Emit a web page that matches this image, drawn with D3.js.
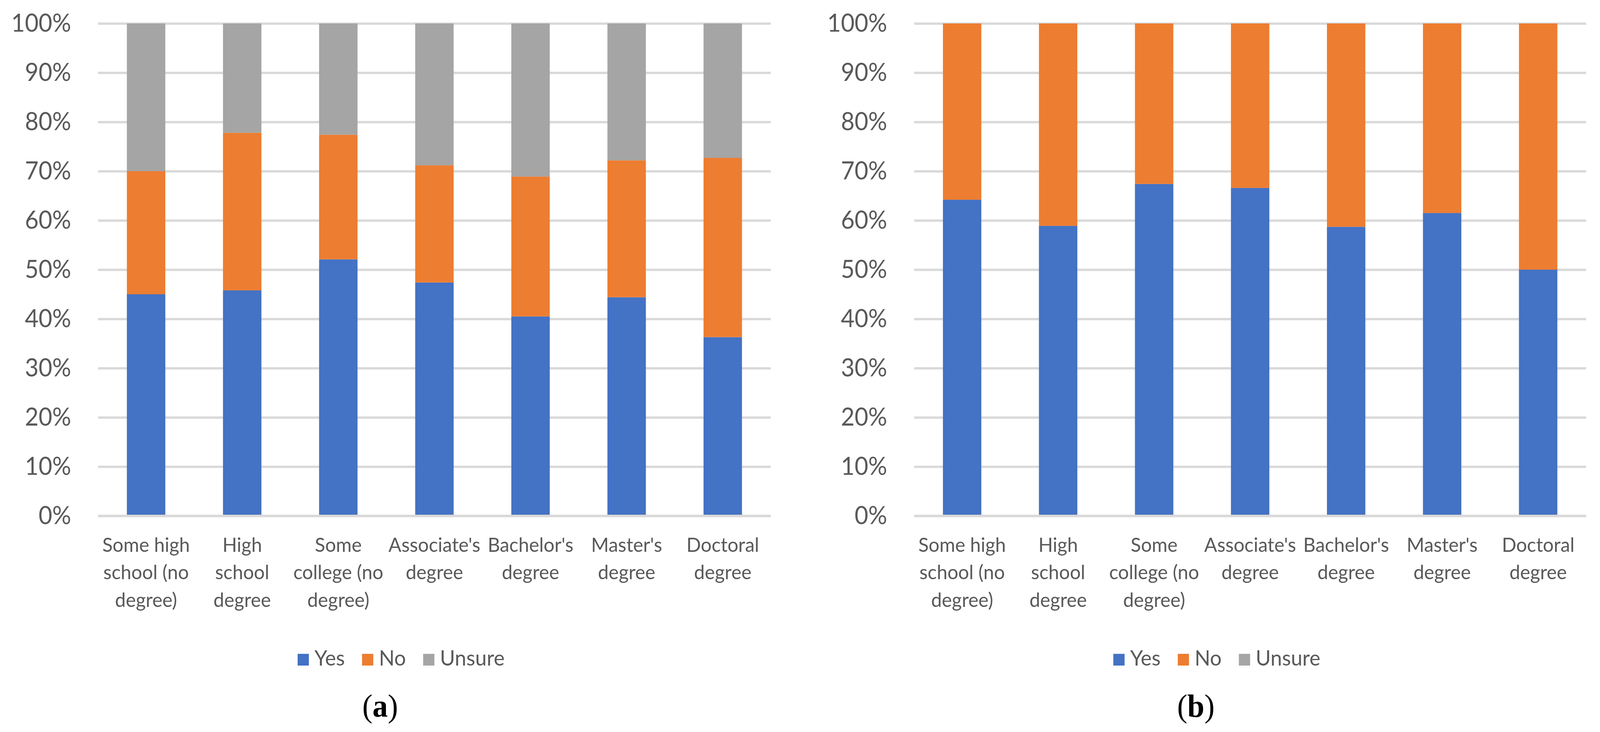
<!DOCTYPE html>
<html>
<head>
<meta charset="utf-8">
<script src="https://cdn.jsdelivr.net/npm/d3@7"></script>
<style>
  html, body { margin: 0; padding: 0; background: #fff; overflow: hidden; }
  svg { display: block; width: 100vw; height: 100vh; }
</style>
</head>
<body>
<svg id="chart"></svg>
<script>
const svgWidth = 4276,
    svgHeight = 1873;

// education levels, already split into the lines that Excel wraps them to
const categories = [
    ["Some high", "school (no", "degree)"],
    ["High", "school", "degree"],
    ["Some", "college (no", "degree)"],
    ["Associate's", "degree"],
    ["Bachelor's", "degree"],
    ["Master's", "degree"],
    ["Doctoral", "degree"]
];

const seriesNames = ["Yes", "No", "Unsure"];
const seriesColors = ["#4472C4", "#ED7D31", "#A5A5A5"];

// panel (a), percent of respondents
const yesA = [45.0, 45.8, 52.1, 47.4, 40.5, 44.4, 36.3];
const noA = [25.0, 32.0, 25.3, 23.8, 28.4, 27.8, 36.4];
const unsureA = [30.0, 22.2, 22.6, 28.8, 31.1, 27.8, 27.3];

// panel (b)
const yesB = [64.2, 58.9, 67.4, 66.6, 58.7, 61.5, 50.0];
const noB = [35.8, 41.1, 32.6, 33.4, 41.3, 38.5, 50.0];
const unsureB = [0, 0, 0, 0, 0, 0, 0];

const yTicks = [0, 10, 20, 30, 40, 50, 60, 70, 80, 90, 100];

const panels = [
    {label: "a", left: 262, right: 2060, series: [yesA, noA, unsureA]},
    {label: "b", left: 2443, right: 4239, series: [yesB, noB, unsureB]}
];

const plotTop = 60,
    plotBottom = 1320;

const textColor = "#595959",
    gridColor = "#D9D9D9";

// viewBox stretched over the viewport (its size is not exactly 4276x1873)
const chart = d3.select("#chart")
    .attr("viewBox", "0 0 " + svgWidth + " " + svgHeight)
    .attr("preserveAspectRatio", "none");

var yScale = d3.scaleLinear().domain([0, 100]).range([plotBottom, plotTop]);

panels.forEach(function(p) {
    const g = chart.append("g").attr("class", "panel-" + p.label);
    const width = p.right - p.left;
    const center = (p.left + p.right) / 2;

    var xScale = d3.scaleBand()
        .domain(d3.range(categories.length))
        .range([p.left, p.right])
        .paddingInner(0.6)
        .paddingOuter(0.3);

    // gridlines + y tick labels
    var yAxis = d3.axisLeft(yScale)
        .tickValues(yTicks)
        .tickSize(-width)
        .tickPadding(72)
        .tickFormat(d => d + "%");

    const yG = g.append("g")
        .attr("transform", "translate(" + p.left + ",0)")
        .call(yAxis);
    yG.select(".domain").remove();
    yG.selectAll("line")
        .attr("stroke", gridColor)
        .attr("stroke-width", 6);
    yG.selectAll("text")
        .attr("fill", textColor)
        .style("font-family", "Lato, sans-serif")
        .style("font-size", "63px");

    // stacked bars
    const rows = categories.map(function(c, i) {
        const row = {idx: i};
        seriesNames.forEach((s, k) => row[s] = p.series[k][i]);
        return row;
    });
    const stacked = d3.stack().keys(seriesNames)(rows);

    g.append("g").selectAll("g")
        .data(stacked)
        .enter()
        .append("g")
        .attr("fill", (d, i) => seriesColors[i])
        .selectAll("rect")
        .data(d => d)
        .enter()
        .append("rect")
        .attr("x", d => xScale(d.data.idx))
        .attr("width", xScale.bandwidth())
        .attr("y", d => yScale(d[1]))
        .attr("height", d => Math.max(0, yScale(d[0]) - yScale(d[1])));

    // horizontal axis line over the bar bottoms
    g.append("line")
        .attr("x1", p.left).attr("x2", p.right)
        .attr("y1", yScale(0)).attr("y2", yScale(0))
        .attr("stroke", gridColor)
        .attr("stroke-width", 6);

    // category labels
    const xl = g.append("g").selectAll("text")
        .data(categories)
        .enter()
        .append("text")
        .attr("text-anchor", "middle")
        .attr("fill", textColor)
        .style("font-family", "Lato, sans-serif")
        .style("font-size", "51px");
    xl.each(function(lines, i) {
        d3.select(this).selectAll("tspan")
            .data(lines)
            .enter()
            .append("tspan")
            .attr("x", xScale(i) + xScale.bandwidth() / 2)
            .attr("y", (d, j) => 1412 + j * 70.5)
            .text(d => d);
    });

    // legend, laid out left to right then centred
    const legend = g.append("g");
    var cursor = 0;
    seriesNames.forEach(function(name, i) {
        legend.append("rect")
            .attr("x", cursor).attr("y", 1673)
            .attr("width", 30).attr("height", 30)
            .attr("fill", seriesColors[i]);
        const t = legend.append("text")
            .attr("x", cursor + 45).attr("y", 1703)
            .attr("fill", textColor)
            .style("font-family", "Lato, sans-serif")
            .style("font-size", "55px")
            .text(name);
        cursor += 45 + t.node().getComputedTextLength() + 46;
    });
    const legendWidth = cursor - 46;
    legend.attr("transform", "translate(" + (center - 89 - legendWidth / 2) + ",0)");

    // panel caption "(a)" / "(b)"
    const cap = g.append("text")
        .attr("x", center - 145)
        .attr("y", 1834)
        .attr("text-anchor", "middle")
        .attr("fill", "#000")
        .style("font-family", "'Liberation Serif', 'Times New Roman', serif")
        .style("font-size", "82px");
    cap.append("tspan").text("(");
    cap.append("tspan").style("font-weight", "bold").text(p.label);
    cap.append("tspan").text(")");
});
</script>
</body>
</html>
